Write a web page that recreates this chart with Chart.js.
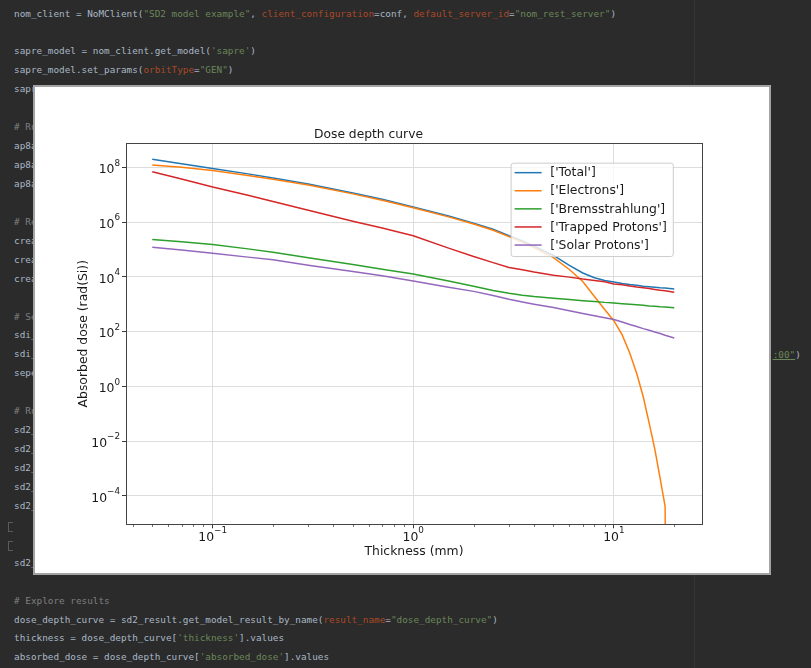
<!DOCTYPE html>
<html>
<head>
<meta charset="utf-8">
<script src="https://cdn.jsdelivr.net/npm/chart.js@4"></script>
<style>
html,body{margin:0;padding:0;background:#2b2b2b;width:811px;height:668px;overflow:hidden;position:relative;}
#code{position:absolute;left:14px;top:4.5px;font-family:"DejaVu Sans Mono",monospace;font-size:9.35px;line-height:18.94px;color:#a9b7c6;white-space:pre;}
#code .s{color:#6a8759;}
#code .k{color:#aa4926;}
#code .c{color:#7f7f7f;}
#tail{position:absolute;left:772.7px;top:345.5px;font-family:"DejaVu Sans Mono",monospace;font-size:9.35px;line-height:18.94px;color:#a9b7c6;white-space:pre;}
#tail .s{color:#6a8759;text-decoration:underline;text-decoration-color:#6a8759;}
#margin{position:absolute;left:694px;top:0;width:1px;height:668px;background:#363636;}
.fold{position:absolute;left:8px;width:4px;height:8px;border:1px solid #5a5a5a;border-right:none;}
#panel{position:absolute;left:33px;top:85px;width:738px;height:490px;box-sizing:border-box;border:2px solid #a3a3a3;background:#ffffff;}
#c{display:block;}
</style>
</head>
<body>
<div id="code"><div>nom_client = NoMClient(<span class="s">"SD2 model example"</span>, <span class="k">client_configuration</span>=conf, <span class="k">default_server_id</span>=<span class="s">"nom_rest_server"</span>)</div><div> </div><div>sapre_model = nom_client.get_model(<span class="s">'sapre'</span>)</div><div>sapre_model.set_params(<span class="k">orbitType</span>=<span class="s">"GEN"</span>)</div><div>sapr</div><div> </div><div><span class="c"># Ru</span></div><div>ap8a</div><div>ap8a</div><div>ap8a</div><div> </div><div><span class="c"># Re</span></div><div>crea</div><div>crea</div><div>crea</div><div> </div><div><span class="c"># Se</span></div><div>sdi_</div><div>sdi_</div><div>sepe</div><div> </div><div><span class="c"># Ru</span></div><div>sd2_</div><div>sd2_</div><div>sd2_</div><div>sd2_</div><div>sd2_</div><div> </div><div> </div><div>sd2_</div><div> </div><div><span class="c"># Explore results</span></div><div>dose_depth_curve = sd2_result.get_model_result_by_name(<span class="k">result_name</span>=<span class="s">"dose_depth_curve"</span>)</div><div>thickness = dose_depth_curve[<span class="s">'thickness'</span>].values</div><div>absorbed_dose = dose_depth_curve[<span class="s">'absorbed_dose'</span>].values</div></div>
<div id="tail"><span class="s">:00"</span>)</div>
<div id="margin"></div>
<div class="fold" style="top:522px"></div>
<div class="fold" style="top:541px"></div>
<div id="panel"><canvas id="c" width="734" height="486"></canvas></div>
<script>
// ---- data ----
const thickness = [0.05,0.07,0.1,0.15,0.2,0.3,0.5,0.7,1,1.5,2,2.5,3,3.5,4,5,6,7,8,9,10,11,12,13,14,15,16,17,18,20];
const doseTotal = [1.95e8,1.35e8,9.1e7,5.75e7,4.07e7,2.45e7,1.15e7,6.76e6,3.55e6,1.66e6,9.12e5,5.5e5,3.16e5,2.04e5,1.32e5,6.03e4,2.63e4,1.38e4,9.33e3,7.41e3,6.46e3,5.75e3,5.25e3,4.9e3,4.57e3,4.37e3,4.17e3,3.98e3,3.89e3,3.63e3];
// last electron value is effectively zero (falls off the log axis)
const doseElectrons = [1.2e8,1.0e8,7.59e7,5.01e7,3.63e7,2.24e7,1.07e7,6.31e6,3.31e6,1.55e6,8.51e5,5.01e5,2.95e5,1.86e5,1.17e5,5.01e4,1.86e4,6.76e3,1.91e3,646,251,75.9,16.6,2.95,0.427,0.0457,5.1e-3,4.47e-4,4.3e-5,1e-40];
const doseBremsstrahlung = [2.29e5,1.91e5,1.51e5,1.05e5,7.94e4,5.01e4,2.82e4,1.91e4,1.26e4,7.08e3,4.57e3,3.16e3,2.51e3,2.14e3,1.91e3,1.66e3,1.48e3,1.35e3,1.26e3,1.17e3,1.12e3,1.05e3,1.0e3,955,912,871,851,813,794,741];
const doseTrappedProtons = [6.92e7,3.72e7,1.91e7,9.55e6,5.62e6,2.69e6,1.07e6,6.03e5,3.16e5,1.12e5,5.5e4,3.31e4,2.19e4,1.82e4,1.51e4,1.15e4,9.77e3,8.32e3,7.41e3,6.61e3,5.5e3,5.13e3,4.68e3,4.27e3,3.98e3,3.72e3,3.47e3,3.24e3,3.09e3,2.75e3];
const doseSolarProtons = [1.2e5,9.55e4,7.24e4,5.25e4,4.17e4,2.63e4,1.58e4,1.1e4,7.08e3,4.17e3,2.95e3,2.09e3,1.51e3,1.2e3,1.0e3,759,575,457,380,324,275,224,182,155,129,112,97.7,85.1,74.1,58.9];
const seriesNames = ["['Total']","['Electrons']","['Bremsstrahlung']","['Trapped Protons']","['Solar Protons']"];
const seriesColors = ['#1f77b4','#ff7f0e','#2ca02c','#d62728','#9467bd'];

const tickBase = '10';
const xMajorTicks = [0.1, 1, 10];
const xTickExponents = ['\u22121','0','1'];
const xMinorTicks = [0.04,0.05,0.06,0.07,0.08,0.09,0.2,0.3,0.4,0.5,0.6,0.7,0.8,0.9,2,3,4,5,6,7,8,9,20];
const yTicks = [1e-4,1e-2,1,1e2,1e4,1e6,1e8];
const yTickExponents = ['\u22124','\u22122','0','2','4','6','8'];

const chartTitle = 'Dose depth curve';
const xTitle = 'Thickness (mm)';
const yTitle = 'Absorbed dose (rad(Si))';

// ---- chart ----
const FONT = '"DejaVu Sans", sans-serif';
Chart.defaults.font.family = FONT;
Chart.defaults.color = '#1a1a1a';

const seriesValues = [doseTotal, doseElectrons, doseBremsstrahlung, doseTrappedProtons, doseSolarProtons];
const datasets = seriesValues.map((vals, i) => ({
  label: seriesNames[i],
  data: thickness.map((t, j) => ({x: t, y: vals[j]})),
  borderColor: seriesColors[i],
  backgroundColor: seriesColors[i],
  borderWidth: 1.5,
  pointRadius: 0,
  pointHoverRadius: 0,
  tension: 0,
  fill: false,
  order: seriesValues.length - i
}));

const framePlugin = {
  id: 'mplFrame',
  afterDatasetsDraw(chart) {
    const {ctx, chartArea: ca} = chart;
    const x = chart.scales.x;
    ctx.save();
    ctx.strokeStyle = '#3a3a3a';
    ctx.lineWidth = 0.8;
    ctx.beginPath();
    xMinorTicks.forEach(v => {
      const px = Math.round(x.getPixelForValue(v)) + 0.5;
      ctx.moveTo(px, ca.bottom);
      ctx.lineTo(px, ca.bottom + 2.5);
    });
    ctx.stroke();
    ctx.lineWidth = 1;
    ctx.strokeStyle = '#444';
    const l = Math.round(ca.left) + 0.5, t = Math.round(ca.top) + 0.5;
    ctx.strokeRect(l, t, Math.round(ca.right) - Math.round(ca.left), Math.round(ca.bottom) - Math.round(ca.top));
    ctx.restore();
  }
};

// matplotlib-style "10^n" tick labels, placed with the library's scales
const expLabelPlugin = {
  id: 'expLabels',
  afterDraw(chart) {
    const {ctx, chartArea: ca} = chart;
    const {x, y} = chart.scales;
    const baseFont = '12.4px ' + FONT, expFont = '8.8px ' + FONT;
    ctx.save();
    ctx.fillStyle = '#1a1a1a';
    ctx.textBaseline = 'middle';
    ctx.textAlign = 'left';
    ctx.font = baseFont;
    const bw = ctx.measureText(tickBase).width;
    yTicks.forEach((v, i) => {
      const py = y.getPixelForValue(v);
      ctx.font = expFont;
      const ew = ctx.measureText(yTickExponents[i]).width;
      const right = ca.left - 6;
      ctx.font = baseFont;
      ctx.fillText(tickBase, right - ew - bw, py + 2.5);
      ctx.font = expFont;
      ctx.fillText(yTickExponents[i], right - ew, py - 4);
    });
    xMajorTicks.forEach((v, i) => {
      const px = x.getPixelForValue(v);
      ctx.font = expFont;
      const ew = ctx.measureText(xTickExponents[i]).width;
      const start = px - (bw + ew) / 2;
      ctx.font = baseFont;
      ctx.fillText(tickBase, start, ca.bottom + 13);
      ctx.font = expFont;
      ctx.fillText(xTickExponents[i], start + bw, ca.bottom + 6.8);
    });
    ctx.restore();
  }
};

const legendPlugin = {
  id: 'mplLegend',
  afterDraw(chart) {
    const {ctx, chartArea: ca} = chart;
    const items = chart.data.datasets;
    ctx.save();
    ctx.font = '12.4px ' + FONT;
    const textW = Math.max(...items.map(d => ctx.measureText(d.label).width));
    const padL = 3.5, sampleW = 27, gap = 8.7, padR = 6.5, padT = 9.5, rowH = 18.1;
    const w = padL + sampleW + gap + textW + padR;
    const h = 93.4;
    const right = ca.right - 28.7;
    const left = right - w;
    const top = ca.top + 20;
    const r = 2.5;
    ctx.beginPath();
    ctx.moveTo(left + r, top);
    ctx.lineTo(left + w - r, top);
    ctx.quadraticCurveTo(left + w, top, left + w, top + r);
    ctx.lineTo(left + w, top + h - r);
    ctx.quadraticCurveTo(left + w, top + h, left + w - r, top + h);
    ctx.lineTo(left + r, top + h);
    ctx.quadraticCurveTo(left, top + h, left, top + h - r);
    ctx.lineTo(left, top + r);
    ctx.quadraticCurveTo(left, top, left + r, top);
    ctx.closePath();
    ctx.fillStyle = 'rgba(255,255,255,0.8)';
    ctx.fill();
    ctx.strokeStyle = '#cccccc';
    ctx.lineWidth = 1;
    ctx.stroke();
    ctx.textBaseline = 'middle';
    ctx.textAlign = 'left';
    items.forEach((d, i) => {
      const cy = top + padT + i * rowH;
      ctx.strokeStyle = d.borderColor;
      ctx.lineWidth = 1.5;
      ctx.beginPath();
      ctx.moveTo(left + padL, cy);
      ctx.lineTo(left + padL + sampleW, cy);
      ctx.stroke();
      ctx.fillStyle = '#1a1a1a';
      ctx.fillText(d.label, left + padL + sampleW + gap, cy + 0.5);
    });
    ctx.restore();
  }
};

const titleFont = {family: FONT, size: 12.4};

new Chart(document.getElementById('c'), {
  type: 'line',
  data: {datasets},
  options: {
    responsive: false,
    animation: false,
    devicePixelRatio: 1,
    layout: {padding: {left: 0, right: 67, top: 0, bottom: 0}},
    plugins: {
      legend: {display: false},
      tooltip: {enabled: false},
      title: {
        display: true,
        text: chartTitle,
        font: {family: FONT, size: 12.3, weight: 'normal'},
        color: '#1a1a1a',
        padding: {top: 40.5, bottom: 0.9}
      }
    },
    scales: {
      x: {
        type: 'logarithmic',
        min: 0.037,
        max: 27.5,
        bounds: 'data',
        afterBuildTicks: s => { s.ticks = xMajorTicks.map(v => ({value: v, major: true})); },
        afterFit: s => { s.height = 48.7; },
        ticks: {display: false, autoSkip: false, maxRotation: 0},
        grid: {color: '#dddddd', lineWidth: 1, drawTicks: true, tickLength: 4, tickColor: '#3a3a3a', tickWidth: 1},
        border: {display: false},
        title: {display: true, text: xTitle, font: titleFont, color: '#1a1a1a', padding: {top: 0, bottom: 13.8}}
      },
      y: {
        type: 'logarithmic',
        min: 9.25e-6,
        max: 7.6e8,
        bounds: 'data',
        afterBuildTicks: s => { s.ticks = yTicks.map(v => ({value: v, major: true})); },
        afterFit: s => { s.width = 91; },
        ticks: {display: false, autoSkip: false},
        grid: {color: '#dddddd', lineWidth: 1, drawTicks: true, tickLength: 4, tickColor: '#3a3a3a', tickWidth: 1},
        border: {display: false},
        title: {display: true, text: yTitle, font: titleFont, color: '#1a1a1a', padding: {top: 41.5, bottom: 0}}
      }
    }
  },
  plugins: [framePlugin, expLabelPlugin, legendPlugin]
});
</script>
</body>
</html>
